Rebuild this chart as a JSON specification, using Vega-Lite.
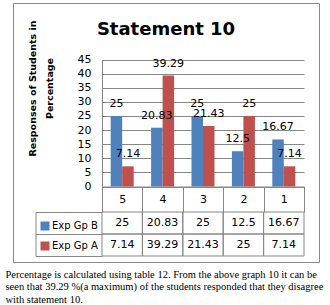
{
  "$schema": "https://vega.github.io/schema/vega-lite/v6.json",
  "width": 306,
  "height": 259,
  "autosize": {"type": "none"},
  "padding": {"left": 13, "top": 3, "right": 11, "bottom": 43},
  "background": "white",
  "config": {
    "view": {"stroke": "#8a8a8a", "strokeWidth": 1},
    "font": "DejaVu Sans"
  },
  "title": {
    "text": "Statement 10",
    "font": "DejaVu Sans",
    "fontSize": 18,
    "fontWeight": "bold",
    "color": "black",
    "anchor": "middle",
    "frame": "group",
    "baseline": "alphabetic",
    "offset": -50
  },
  "data": {
    "values": [
      {"cat": "5", "group": "Exp Gp B", "value": 25},
      {"cat": "4", "group": "Exp Gp B", "value": 20.83},
      {"cat": "3", "group": "Exp Gp B", "value": 25},
      {"cat": "2", "group": "Exp Gp B", "value": 12.5},
      {"cat": "1", "group": "Exp Gp B", "value": 16.67},
      {"cat": "5", "group": "Exp Gp A", "value": 7.14},
      {"cat": "4", "group": "Exp Gp A", "value": 39.29},
      {"cat": "3", "group": "Exp Gp A", "value": 21.43},
      {"cat": "2", "group": "Exp Gp A", "value": 25},
      {"cat": "1", "group": "Exp Gp A", "value": 7.14}
    ]
  },
  "layer": [
    {
      "layer": [
        {
          "mark": {"type": "bar"},
          "encoding": {
            "x": {
              "field": "cat", "type": "nominal", "sort": ["5", "4", "3", "2", "1"],
              "scale": {"type": "band", "range": [89, 291], "paddingInner": 0, "paddingOuter": 0},
              "axis": {
                "orient": "bottom", "offset": -75.5,
                "domain": true, "domainColor": "#868686",
                "ticks": true, "tickBand": "extent", "tickSize": 25.5, "tickColor": "#868686",
                "labelAngle": 0, "labelPadding": -12.5, "labelBaseline": "middle",
                "labelFontSize": 11, "labelColor": "black", "labelFont": "DejaVu Sans",
                "grid": false,
                "title": [
                  "Percentage is calculated using table 12. From the above graph 10 it can be",
                  "seen that 39.29 %(a maximum) of the students responded that they disagree",
                  "with statement 10."
                ],
                "titleFont": "Liberation Serif", "titleFontSize": 10.5, "titleFontWeight": "normal",
                "titleColor": "black", "titleAlign": "left", "titleAnchor": "start",
                "titleBaseline": "alphabetic", "titleX": -8, "titleY": 90.5, "titleLineHeight": 12.5
              }
            },
            "xOffset": {
              "field": "group", "type": "nominal", "sort": ["Exp Gp B", "Exp Gp A"],
              "scale": {"paddingInner": 0, "paddingOuter": 0.757}
            },
            "y": {
              "field": "value", "type": "quantitative",
              "scale": {"domain": [0, 45], "range": [183.5, 56.5], "nice": false, "zero": true},
              "axis": {
                "orient": "left", "offset": -89,
                "values": [0, 5, 10, 15, 20, 25, 30, 35, 40, 45],
                "tickCount": 12,
                "labelOverlap": false,
                "ticks": false, "labelPadding": 11, "labelFontSize": 11, "labelFont": "DejaVu Sans",
                "labelColor": "black", "domainColor": "#868686",
                "grid": true, "gridColor": "#868686", "gridWidth": 1,
                "title": ["Responses of Students in", "Percentage"],
                "titleFont": "DejaVu Sans", "titleFontSize": 9.5, "titleFontWeight": "bold",
                "titleColor": "black", "titleAngle": -90, "titleX": -69.5, "titleY": 85,
                "titleAlign": "center", "titleBaseline": "middle", "titleLineHeight": 17
              }
            },
            "color": {
              "field": "group", "type": "nominal", "sort": ["Exp Gp B", "Exp Gp A"],
              "scale": {"domain": ["Exp Gp B", "Exp Gp A"], "range": ["#4F81BD", "#C0504D"]},
              "legend": {
                "orient": "none", "legendX": 27, "legendY": 218, "title": null,
                "symbolType": "square", "symbolSize": 81, "symbolStrokeWidth": 0,
                "labelFontSize": 10, "labelFont": "DejaVu Sans", "labelColor": "black",
                "labelOffset": 2, "rowPadding": 10, "padding": 0, "direction": "vertical"
              }
            }
          }
        },
        {
          "mark": {"type": "text", "baseline": "alphabetic", "dy": -9, "fontSize": 11, "color": "black", "font": "DejaVu Sans"},
          "encoding": {
            "x": {"field": "cat", "type": "nominal", "sort": ["5", "4", "3", "2", "1"]},
            "xOffset": {"field": "group", "type": "nominal", "sort": ["Exp Gp B", "Exp Gp A"]},
            "y": {"field": "value", "type": "quantitative"},
            "text": {"field": "value", "type": "nominal"}
          }
        }
      ]
    },
    {
      "layer": [
        {
          "mark": {"type": "rect", "fill": "transparent", "stroke": "#868686", "strokeWidth": 1},
          "encoding": {
            "x": {"field": "cat", "type": "nominal", "sort": ["5", "4", "3", "2", "1"]},
            "y": {
              "field": "group", "type": "nominal", "sort": ["Exp Gp B", "Exp Gp A"],
              "scale": {"type": "band", "domain": ["Exp Gp B", "Exp Gp A"], "range": [209, 253], "paddingInner": 0, "paddingOuter": 0},
              "axis": {
                "orient": "left", "offset": -22.5, "labels": false, "title": null, "grid": false,
                "domain": true, "domainColor": "#868686",
                "ticks": true, "tickBand": "extent", "tickSize": -66.5, "tickColor": "#868686"
              }
            }
          }
        },
        {
          "mark": {"type": "text", "fontSize": 11, "color": "black", "font": "DejaVu Sans"},
          "encoding": {
            "x": {"field": "cat", "type": "nominal", "sort": ["5", "4", "3", "2", "1"]},
            "y": {"field": "group", "type": "nominal", "sort": ["Exp Gp B", "Exp Gp A"]},
            "text": {"field": "value", "type": "nominal"}
          }
        }
      ]
    }
  ],
  "resolve": {"scale": {"y": "independent"}, "axis": {"y": "independent"}}
}
